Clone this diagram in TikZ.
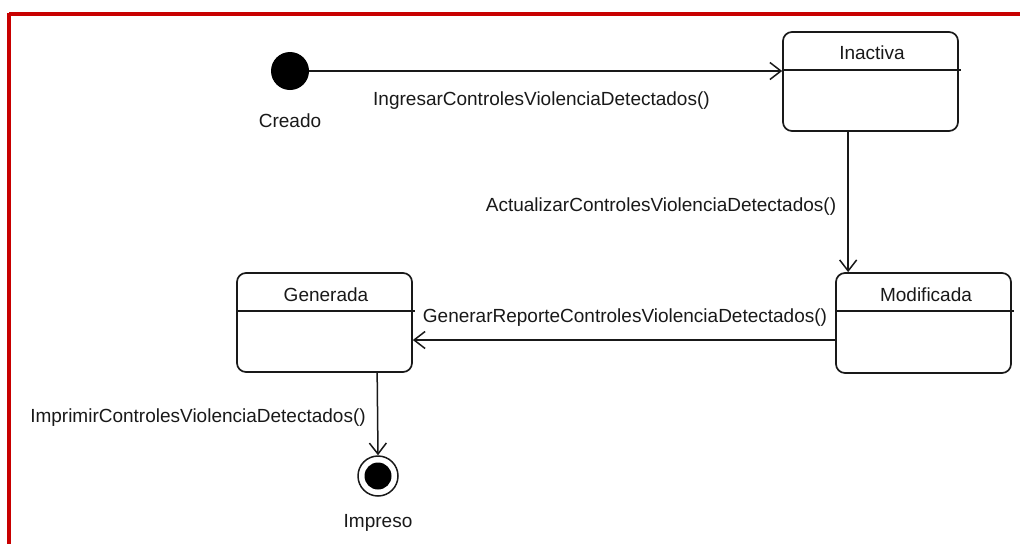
\documentclass[tikz,border=0pt]{standalone}
\usepackage{fontspec}
\setmainfont{Liberation Sans}
\usetikzlibrary{arrows.meta}
\definecolor{framered}{RGB}{200,0,0}
\definecolor{ink}{RGB}{25,25,25}
\begin{document}
\begin{tikzpicture}[x=1pt,y=-1pt,
  font=\fontsize{19}{22}\selectfont,
  statebox/.style={draw=ink,line width=1.7pt,rounded corners=9pt,minimum width=175pt,minimum height=99pt,inner sep=0pt},
  conn/.style={draw=ink,line width=1.5pt,-{Straight Barb[length=11pt,width=17pt,line width=1.5pt]}},
  lbl/.style={inner sep=0pt,text=ink},
  hdr/.style={draw=ink,line width=1.7pt}]
\useasboundingbox (0,0) rectangle (1020,544);
\fill[white] (0,0) rectangle (1020,544);
% frame
\draw[framered,line width=3.5pt] (9,14) -- (1020,14);
\draw[framered,line width=4pt] (9,12.5) -- (9,544);

% states
\node[statebox] (inact) at (870.5,81.5) {};
\node[statebox,minimum height=100pt] (mod) at (923.5,323) {};
\node[statebox] (gen) at (324.5,322.5) {};
\draw[hdr] ([yshift=-39pt]inact.north west) -- ([yshift=-39pt,xshift=2pt]inact.north east);
\draw[hdr] ([yshift=-39pt]mod.north west) -- ([yshift=-39pt,xshift=2pt]mod.north east);
\draw[hdr] ([yshift=-39pt]gen.north west) -- ([yshift=-39pt,xshift=2pt]gen.north east);
\node[lbl] (tinact) at (872,53) {Inactiva};
\node[lbl] (tmod) at (926,295) {Modificada};
\node[lbl] (tgen) at (326,295) {Generada};

% pseudo states
\node[circle,fill=black,minimum size=38pt,inner sep=0pt] (init) at (290,71) {};
\node[circle,draw=ink,line width=1.5pt,minimum size=40pt,inner sep=0pt] (final) at (378,476) {};
\fill[black] (final.center) circle[radius=13.5pt];
\node[lbl] (tcreado) at (290,121) {Creado};
\node[lbl] (timpreso) at (378,523) {Impreso};

% transitions
\draw[conn] (init) -- (init -| inact.west);
\coordinate (a1) at ([xshift=66pt]inact.south west);
\coordinate (a2) at ([xshift=13pt]mod.north west);
\draw[conn] (a1) -- (a2);
\coordinate (b1) at ([yshift=-17pt]mod.west);
\draw[conn] (b1) -- (b1 -| gen.east);
\coordinate (c1) at ([xshift=141pt]gen.south west);
\draw[conn] (c1) -- (final.north);

% labels
\node[lbl,anchor=west] (l1) at (373,101) {IngresarControlesViolenciaDetectados()};
\node[lbl] (l2) at (661,207) {ActualizarControlesViolenciaDetectados()};
\node[lbl] (l3) at (625,318) {GenerarReporteControlesViolenciaDetectados()};
\node[lbl] (l4) at (198,418) {ImprimirControlesViolenciaDetectados()};
\end{tikzpicture}
\end{document}
